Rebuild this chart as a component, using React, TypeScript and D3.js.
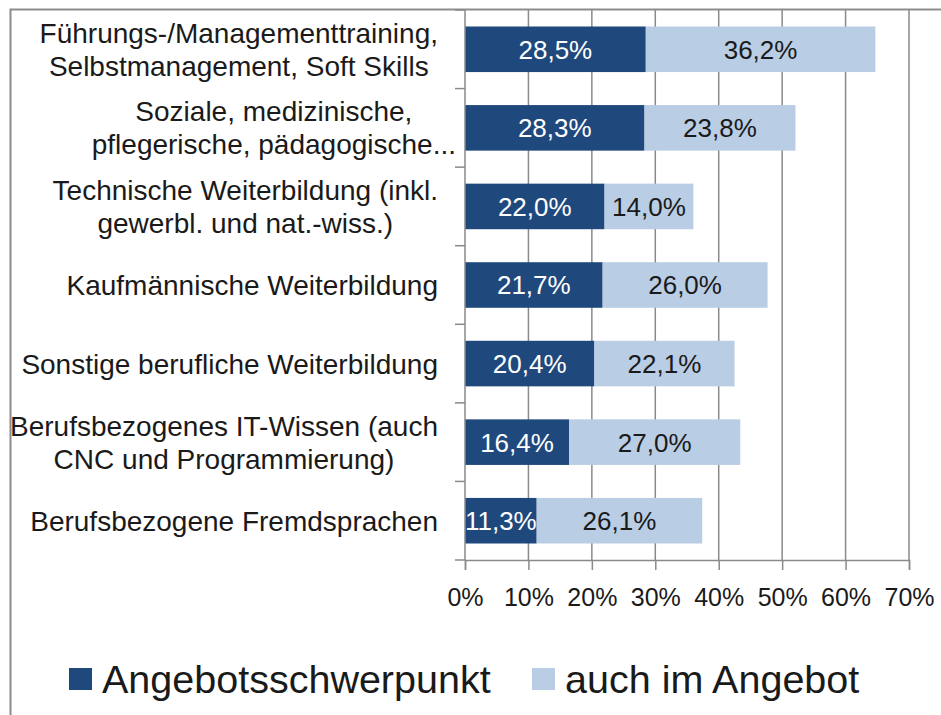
import React, { useEffect, useRef } from "react";
import * as d3 from "d3";

const categories = [
  "Führungs-/Managementtraining,|Selbstmanagement, Soft Skills",
  "Soziale, medizinische,|pflegerische, pädagogische...",
  "Technische Weiterbildung (inkl.|gewerbl. und nat.-wiss.)",
  "Kaufmännische Weiterbildung",
  "Sonstige berufliche Weiterbildung",
  "Berufsbezogenes IT-Wissen (auch|CNC und Programmierung)",
  "Berufsbezogene Fremdsprachen",
];
const schwerpunkt = [28.5, 28.3, 22.0, 21.7, 20.4, 16.4, 11.3];
const auchImAngebot = [36.2, 23.8, 14.0, 26.0, 22.1, 27.0, 26.1];
const seriesNames = ["Angebotsschwerpunkt", "auch im Angebot"];
const xTicks = [0, 10, 20, 30, 40, 50, 60, 70];

const colors = ["#1f497d", "#b9cde5"];
const font = "'Liberation Sans', Arial, sans-serif";

const App = () => {
  const ref = useRef<SVGSVGElement>(null);

  useEffect(() => {
    const width = 941;
    const height = 715;
    const margin = { top: 10, right: 32, bottom: 155, left: 465 };

    const svg = d3.select(ref.current);
    svg.selectAll("*").remove();
    svg.attr("width", width).attr("height", height);

    // outer frame (only top and left are visible)
    svg.append("path")
      .attr("d", `M10.5,${height} V9.5 H${width}`)
      .attr("fill", "none")
      .attr("stroke", "#8c8c8c")
      .attr("stroke-width", 2);

    const x = d3.scaleLinear().domain([0, 70]).range([margin.left, width - margin.right]);
    const y = d3
      .scaleBand()
      .domain(categories)
      .range([margin.top, height - margin.bottom])
      .paddingInner(0.42)
      .paddingOuter(0.21);

    const top = margin.top;
    const bottom = height - margin.bottom;

    // gridlines
    svg.append("g")
      .selectAll("line")
      .data(xTicks.slice(1))
      .join("line")
      .attr("x1", (d) => x(d))
      .attr("x2", (d) => x(d))
      .attr("y1", top)
      .attr("y2", bottom)
      .attr("stroke", "#8a8a8a")
      .attr("stroke-width", 1.5);

    // stacked bars
    const data = categories.map((c, i) => ({ c, a: schwerpunkt[i], b: auchImAngebot[i] }));
    const g = svg.append("g");
    g.selectAll("rect.a")
      .data(data)
      .join("rect")
      .attr("x", x(0))
      .attr("y", (d) => y(d.c)!)
      .attr("width", (d) => x(d.a) - x(0))
      .attr("height", y.bandwidth())
      .attr("fill", colors[0]);
    g.selectAll("rect.b")
      .data(data)
      .join("rect")
      .attr("x", (d) => x(d.a))
      .attr("y", (d) => y(d.c)!)
      .attr("width", (d) => x(d.a + d.b) - x(d.a))
      .attr("height", y.bandwidth())
      .attr("fill", colors[1]);

    const fmt = (v: number) => v.toFixed(1).replace(".", ",") + "%";
    g.selectAll("text.a")
      .data(data)
      .join("text")
      .attr("x", (d) => x(d.a / 2))
      .attr("y", (d) => y(d.c)! + y.bandwidth() / 2)
      .attr("dy", "0.36em")
      .attr("text-anchor", "middle")
      .attr("font-family", font)
      .attr("font-size", 26)
      .attr("fill", "#ffffff")
      .text((d) => fmt(d.a));
    g.selectAll("text.b")
      .data(data)
      .join("text")
      .attr("x", (d) => x(d.a + d.b / 2))
      .attr("y", (d) => y(d.c)! + y.bandwidth() / 2)
      .attr("dy", "0.36em")
      .attr("text-anchor", "middle")
      .attr("font-family", font)
      .attr("font-size", 26)
      .attr("fill", "#1a1a1a")
      .text((d) => fmt(d.b));

    // y axis line + ticks between categories
    const axisColor = "#8a8a8a";
    svg.append("line")
      .attr("x1", x(0)).attr("x2", x(0))
      .attr("y1", top).attr("y2", bottom)
      .attr("stroke", axisColor).attr("stroke-width", 1.5);
    const bounds = d3.range(categories.length + 1).map((i) => top + i * (bottom - top) / categories.length);
    svg.append("g")
      .selectAll("line")
      .data(bounds)
      .join("line")
      .attr("x1", x(0) - 10).attr("x2", x(0))
      .attr("y1", (d) => d).attr("y2", (d) => d)
      .attr("stroke", axisColor).attr("stroke-width", 1.5);

    // x axis
    const xAxis = d3.axisBottom(x).tickValues(xTicks).tickSize(10).tickFormat((d) => `${d}%`);
    svg.append("g")
      .attr("transform", `translate(0,${bottom})`)
      .call(xAxis)
      .call((s) => s.select(".domain").attr("stroke", axisColor).attr("stroke-width", 1.5))
      .call((s) => s.selectAll(".tick line").attr("stroke", axisColor).attr("stroke-width", 1.5))
      .call((s) =>
        s.selectAll(".tick text")
          .attr("font-family", font)
          .attr("font-size", 25)
          .attr("fill", "#1a1a1a")
          .attr("y", 28)
      );

    // category labels: centred block, right-aligned next to the axis
    const lineH = 33;
    categories.forEach((c, k) => {
      const lines = c.split("|");
      const t = svg.append("text")
        .attr("font-family", font)
        .attr("font-size", 28)
        .attr("fill", "#1a1a1a")
        .attr("text-anchor", "middle");
      const cy = y(c)! + y.bandwidth() / 2;
      lines.forEach((l, i) => {
        t.append("tspan")
          .attr("x", 0)
          .attr("y", cy + (i - (lines.length - 1) / 2) * lineH)
          .attr("dy", "0.36em")
          .text(l);
      });
      const w = (t.node() as SVGTextElement).getBBox().width;
      // the truncated label runs closer to the axis
      const gap = k === 1 ? 9 : 27;
      t.attr("transform", `translate(${x(0) - gap - w / 2},0)`);
    });

    // legend
    const legend = svg.append("g").attr("transform", `translate(69,679)`);
    const pos = [0, 463];
    seriesNames.forEach((n, i) => {
      legend.append("rect")
        .attr("x", pos[i]).attr("y", -11)
        .attr("width", 23).attr("height", 22)
        .attr("fill", colors[i]);
      legend.append("text")
        .attr("x", pos[i] + 33)
        .attr("y", 0)
        .attr("dy", "0.36em")
        .attr("font-family", font)
        .attr("font-size", 39.5)
        .attr("fill", "#1a1a1a")
        .text(n);
    });
  }, []);

  return (
    <div style={{ position: "absolute", left: 0, top: 0, background: "#fff" }}>
      <svg ref={ref} style={{ display: "block" }}></svg>
    </div>
  );
};

export default App;
